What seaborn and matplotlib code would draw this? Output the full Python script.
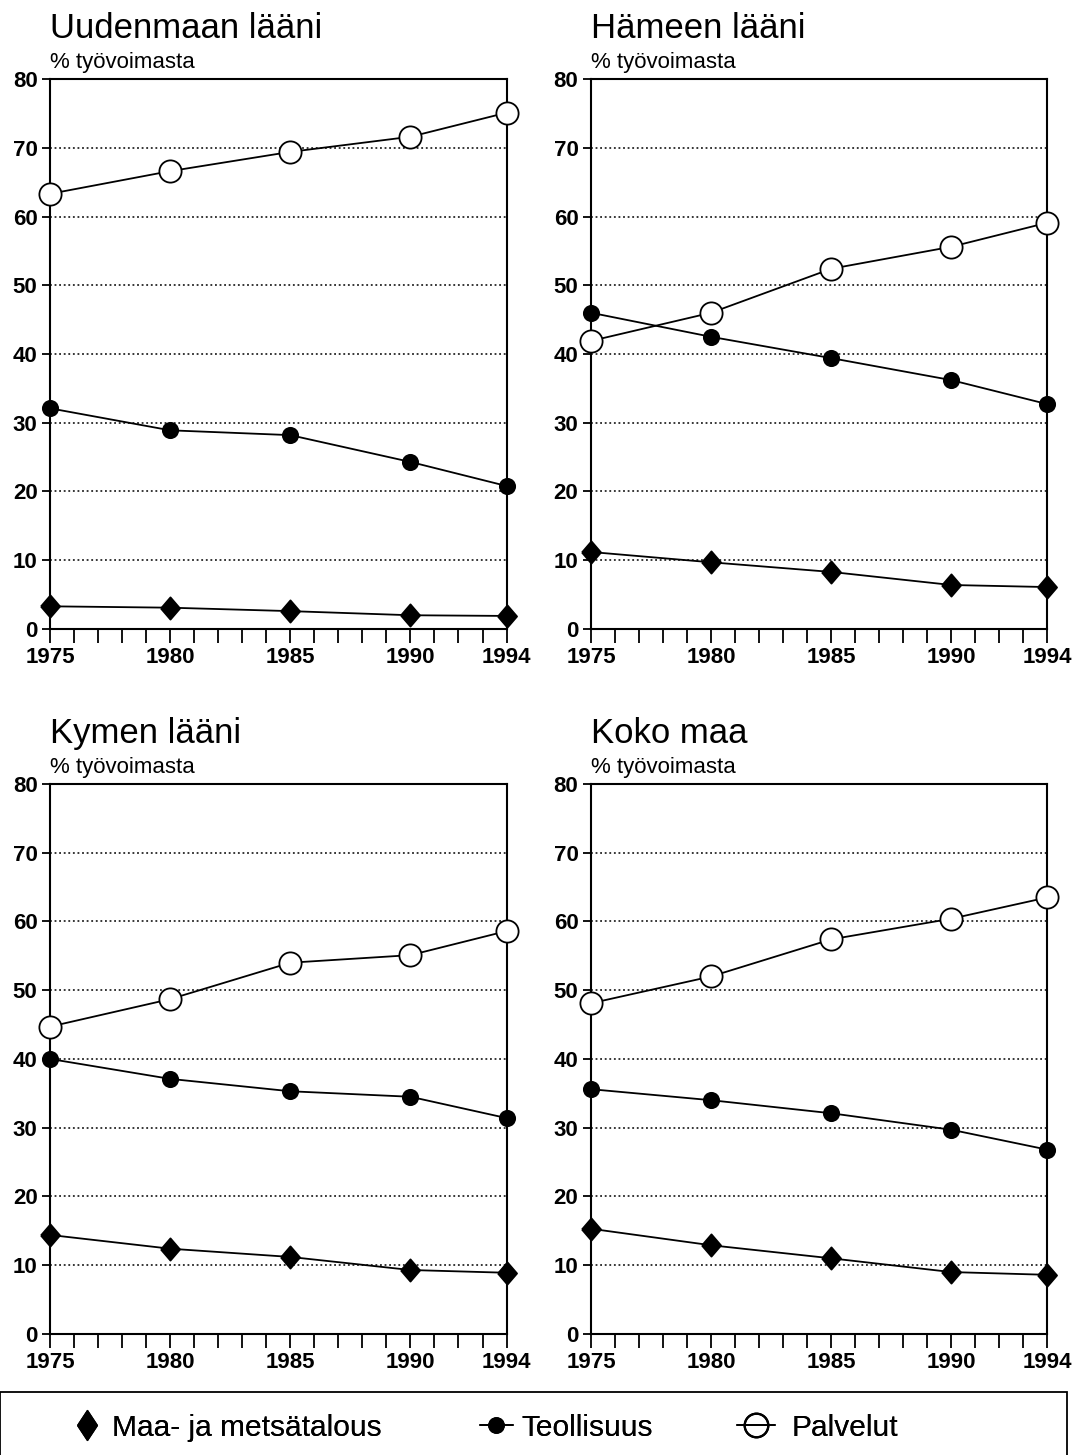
import matplotlib.pyplot as plt
import seaborn as sns
import pandas as pd
from matplotlib.lines import Line2D
from matplotlib.patches import Rectangle
from matplotlib.ticker import MultipleLocator

# Data (% of labour force)
years = [1975, 1980, 1985, 1990, 1994]
regions = ['Uudenmaan lääni', 'Hämeen lääni', 'Kymen lääni', 'Koko maa']

maa_uusimaa = [3.3, 3.1, 2.6, 2.0, 1.9]
teol_uusimaa = [32.1, 28.9, 28.2, 24.3, 20.8]
palv_uusimaa = [63.3, 66.6, 69.4, 71.6, 75.1]

maa_hame = [11.2, 9.7, 8.3, 6.4, 6.1]
teol_hame = [46.0, 42.5, 39.4, 36.2, 32.7]
palv_hame = [41.9, 46.0, 52.4, 55.6, 59.1]

maa_kymi = [14.4, 12.4, 11.2, 9.3, 8.9]
teol_kymi = [40.0, 37.1, 35.3, 34.5, 31.4]
palv_kymi = [44.7, 48.7, 54.0, 55.1, 58.6]

maa_koko = [15.3, 12.9, 11.0, 9.0, 8.6]
teol_koko = [35.6, 34.0, 32.1, 29.7, 26.8]
palv_koko = [48.1, 52.0, 57.4, 60.4, 63.5]

series_names = ['Maa- ja metsätalous', 'Teollisuus', 'Palvelut']
x_ticks = [1975, 1980, 1985, 1990, 1994]

sns.set_theme(style='white')
plt.rcParams['font.family'] = ['Liberation Sans', 'DejaVu Sans']
plt.rcParams['text.color'] = 'black'
plt.rcParams['xtick.color'] = 'black'
plt.rcParams['ytick.color'] = 'black'

data = {
    regions[0]: [maa_uusimaa, teol_uusimaa, palv_uusimaa],
    regions[1]: [maa_hame, teol_hame, palv_hame],
    regions[2]: [maa_kymi, teol_kymi, palv_kymi],
    regions[3]: [maa_koko, teol_koko, palv_koko],
}

# slightly tall diamond for the plots, thinner one for the legend
diamond = [(-0.43, 0), (0, 0.5), (0.43, 0), (0, -0.5), (-0.43, 0)]
thin_diamond = [(-0.33, 0), (0, 0.5), (0.33, 0), (0, -0.5), (-0.33, 0)]

styles = [
    dict(marker=diamond, markersize=16, markerfacecolor='black'),
    dict(marker='o', markersize=11, markerfacecolor='black'),
    dict(marker='o', markersize=16, markerfacecolor='white'),
]

fig = plt.figure(figsize=(10.78, 14.55), dpi=100)

# axes positions in figure fraction
lefts = [0.0464, 0.5482, 0.0464, 0.5482]
bottoms = [0.5677, 0.5677, 0.0832, 0.0832]
width = 0.4235
height = 0.378

for i, region in enumerate(regions):
    ax = fig.add_axes([lefts[i], bottoms[i], width, height])
    for name, vals, st in zip(series_names, data[region], styles):
        df = pd.DataFrame({'year': years, 'value': vals})
        sns.lineplot(data=df, x='year', y='value', ax=ax, color='black',
                     linewidth=1.3, markeredgecolor='black', markeredgewidth=1.3,
                     clip_on=False, zorder=3, **st)

    ax.set_xlim(1975, 1994)
    ax.set_ylim(0, 80)
    ax.set_xticks(x_ticks)
    ax.xaxis.set_minor_locator(MultipleLocator(1))
    ax.set_yticks(range(0, 81, 10))
    ax.tick_params(axis='both', which='both', direction='out', color='black',
                   bottom=True, left=True, labelsize=16, pad=3)
    ax.tick_params(axis='x', which='both', length=10, width=1.3)
    ax.tick_params(axis='y', which='major', length=6, width=1.3)
    for lab in ax.get_xticklabels() + ax.get_yticklabels():
        lab.set_fontweight('bold')
    ax.set_xlabel('')
    ax.set_ylabel('')

    for y in range(10, 80, 10):
        ax.axhline(y, color='black', linestyle=(0, (1.2, 1.8)), linewidth=1.1, zorder=1)

    for spine in ax.spines.values():
        spine.set_color('black')
        spine.set_linewidth(1.5)

    ax.text(0.0, 1.092, region, transform=ax.transAxes, fontsize=25,
            ha='left', va='center')
    ax.text(0.0, 1.03, '% työvoimasta', transform=ax.transAxes, fontsize=16,
            ha='left', va='center')

# legend box at the bottom
fig.patches.append(Rectangle((0.0, -0.01), 0.99, 0.053, transform=fig.transFigure,
                             fill=False, edgecolor='black', linewidth=1.3))

handles = [
    Line2D([], [], color='black', linestyle='none', marker=thin_diamond, markersize=21.5),
    Line2D([], [], color='black', linewidth=1.3, marker='o', markersize=11),
    Line2D([], [], color='black', linewidth=1.3, marker='o', markersize=17,
           markerfacecolor='none', markeredgewidth=1.6),
]
# one legend per entry so each item sits where it does in the original
leg_x = [0.0682, 0.4453, 0.6837]
leg_len = [0.9, 1.1, 1.27]
leg_pad = [0.4, 0.3, 0.57]
for h, name, x, hl, tp in zip(handles, series_names, leg_x, leg_len, leg_pad):
    leg = fig.legend([h], [name], loc='center left', bbox_to_anchor=(x, 0.0186),
                     frameon=False, fontsize=21.5, handlelength=hl, handletextpad=tp,
                     borderpad=0, borderaxespad=0)
    fig.add_artist(leg)

fig.savefig('out.png', dpi=100)
